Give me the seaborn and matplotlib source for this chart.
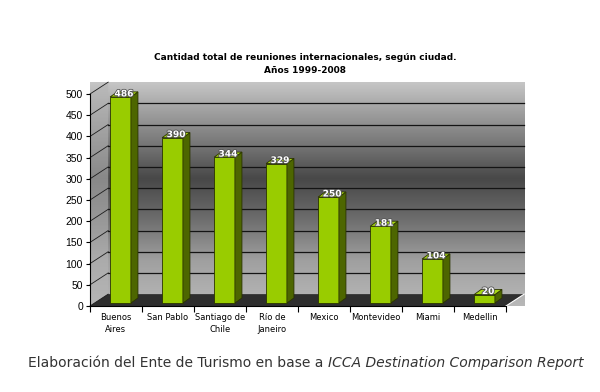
import numpy as np
import seaborn as sns
import matplotlib.pyplot as plt
import matplotlib.patheffects as pe
from matplotlib.colors import LinearSegmentedColormap
from matplotlib.patches import Polygon

# data
cities = ["Buenos\nAires", "San Pablo", "Santiago de\nChile", "Río de\nJaneiro",
          "Mexico", "Montevideo", "Miami", "Medellin"]
meetings = [486, 390, 344, 329, 250, 181, 104, 20]
y_ticks = list(range(0, 501, 50))

title = "Cantidad total de reuniones internacionales, según ciudad.\nAños 1999-2008"
source_plain = "Elaboración del Ente de Turismo en base a "
source_italic = "ICCA Destination Comparison Report"

# 3D look: depth of the walls and of the bars (x in categories, y in data units)
dx, dy = 0.35, 28
ox, oy = 0.087, 7
sx, sy = 0.135, 12
n = len(cities)

fig = plt.figure(figsize=(6, 3.92), dpi=100)
ax = fig.add_axes([0.15, 0.2194, 0.6933, 0.5408])

sns.barplot(x=list(range(n)), y=meetings, color="#99cc00", saturation=1,
            width=0.4, edgecolor="#2a3300", linewidth=0.6, ax=ax, zorder=3)

# back wall + left wall gradient
wall_cmap = LinearSegmentedColormap.from_list(
    "wall", [(0.0, "#b8b8b8"), (0.2, "#a0a0a0"), (0.4, "#6a6a6a"), (0.57, "#484848"),
             (0.7, "#707070"), (0.85, "#9a9a9a"), (1.0, "#c6c6c6")])
grad = np.linspace(0, 1, 256).reshape(-1, 1)
img = ax.imshow(grad, cmap=wall_cmap, origin="lower", aspect="auto",
                extent=[-0.5, n - 0.5 + dx, 0, 500 + dy], zorder=0, clip_on=False)
clip = Polygon([(-0.5, 0), (-0.5, 500), (-0.5 + dx, 500 + dy), (n - 0.5 + dx, 500 + dy),
                (n - 0.5 + dx, dy), (-0.5 + dx, dy)], closed=True,
               transform=ax.transData, fill=False, edgecolor="none")
ax.add_patch(clip)
img.set_clip_path(clip)

# lighter side wall
ax.add_patch(Polygon([(-0.5, 0), (-0.5, 500), (-0.5 + dx, 500 + dy), (-0.5 + dx, dy)],
                     closed=True, facecolor="#b4b4b4", edgecolor="none", alpha=0.6,
                     zorder=0.5, clip_on=False))

# floor
ax.add_patch(Polygon([(-0.5, 0), (n - 0.5, 0), (n - 0.5 + dx, dy), (-0.5 + dx, dy)],
                     closed=True, facecolor="#2e2e2e", edgecolor="none",
                     zorder=1, clip_on=False))
ax.plot([n - 0.5, n - 0.5 + dx], [0, dy], color="white", lw=0.8, zorder=1, clip_on=False)

# gridlines on back wall and connectors on side wall
for v in y_ticks[1:-1]:
    ax.plot([-0.5 + dx, n - 0.5 + dx], [v + dy, v + dy], color="#141414", lw=0.9,
            zorder=1, clip_on=False)
for v in y_ticks:
    ax.plot([-0.5, -0.5 + dx], [v, v + dy], color="#1c1c1c", lw=0.6,
            zorder=1, clip_on=False)

# turn flat bars into boxes
for p, val in zip(ax.patches[:n], meetings):
    p.set_x(p.get_x() + ox)
    p.set_y(oy)
    x0, w = p.get_x(), p.get_width()
    top = oy + val
    ax.add_patch(Polygon([(x0 + w, oy), (x0 + w + sx, oy + sy), (x0 + w + sx, top + sy),
                          (x0 + w, top)], closed=True, facecolor="#4d6600",
                         edgecolor="#2a3300", lw=0.6, zorder=3, clip_on=False))
    ax.add_patch(Polygon([(x0, top), (x0 + w, top), (x0 + w + sx, top + sy),
                          (x0 + sx, top + sy)], closed=True, facecolor="#a8d814",
                         edgecolor="#2a3300", lw=0.6, zorder=3, clip_on=False))
    ax.text(x0 + w / 2 + sx / 2, top + sy * 0.6, str(val), ha="center", va="center",
            color="white", fontsize=6.5, fontweight="bold", zorder=5,
            path_effects=[pe.withStroke(linewidth=1.2, foreground="#555555")])

ax.set_xlim(-0.5, n - 0.5)
ax.set_ylim(0, 500)
for side in ["top", "right"]:
    ax.spines[side].set_visible(False)
for side in ["left", "bottom"]:
    ax.spines[side].set_color("black")
    ax.spines[side].set_linewidth(0.8)

ax.set_yticks(y_ticks)
ax.set_yticklabels([str(v) for v in y_ticks], fontsize=7.5, family="Liberation Sans")
ax.tick_params(axis="y", length=3, width=0.8, pad=2)

ax.set_xticks(np.arange(-0.5, n, 1.0))
ax.set_xticklabels([])
ax.tick_params(axis="x", which="major", length=4, width=0.8)
ax.set_xticks(range(n), minor=True)
ax.set_xticklabels(cities, minor=True, fontsize=6, linespacing=1.5, va="top")
ax.tick_params(axis="x", which="minor", length=0, pad=5)
ax.set_xlabel("")
ax.set_ylabel("")

fig.text(0.508, 1 - 64 / 392, title, ha="center", va="center", fontsize=6.5,
         fontweight="bold", linespacing=1.6)

# source note, plain + italic
t1 = fig.text(28 / 600, 1 - 363 / 392, source_plain, ha="left", va="center",
              fontsize=10, color="#333333")
fig.canvas.draw()
bb = t1.get_window_extent()
fig.text(bb.x1 / fig.bbox.width, 1 - 363 / 392, source_italic, ha="left", va="center",
         fontsize=10, color="#333333", style="italic")

plt.savefig("out.png", dpi=100)
